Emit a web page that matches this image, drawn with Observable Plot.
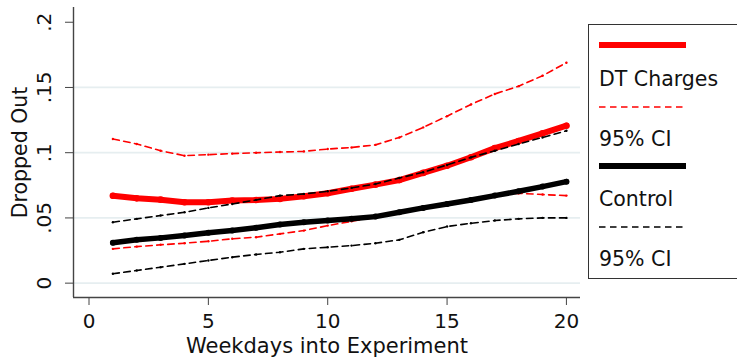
<!DOCTYPE html>
<html>
<head>
<meta charset="utf-8">
<script src="https://cdn.jsdelivr.net/npm/d3@7"></script>
<script src="https://cdn.jsdelivr.net/npm/@observablehq/plot@0.6"></script>
<style>
  html, body { margin: 0; padding: 0; background: #fff; overflow: hidden; }
  #wrap { position: relative; width: 737px; height: 358px; font-family: "DejaVu Sans", sans-serif; }
  #chart { position: absolute; left: 0; top: 0; }
  #legend { position: absolute; left: 588px; top: 24px; width: 170px; height: 255px; border: 1.3px solid #333; box-sizing: border-box; background: #fff; }
</style>
</head>
<body>
<div id="wrap">
  <div id="chart"></div>
  <div id="legend"></div>
</div>
<script>
// ---- data ----
const days = [1,2,3,4,5,6,7,8,9,10,11,12,13,14,15,16,17,18,19,20];
const dtEst  = [0.067,0.065,0.064,0.062,0.062,0.0633,0.0637,0.0646,0.0666,0.0689,0.0724,0.0755,0.079,0.0845,0.090,0.0965,0.1035,0.109,0.1148,0.1207];
const dtHi   = [0.1105,0.1067,0.1015,0.0977,0.0985,0.0993,0.100,0.1005,0.101,0.1028,0.104,0.106,0.1117,0.1194,0.128,0.137,0.145,0.151,0.159,0.169];
const dtLo   = [0.0263,0.028,0.0294,0.0306,0.0321,0.034,0.0352,0.0378,0.0403,0.0441,0.0474,0.0505,0.0543,0.0569,0.0602,0.0638,0.0671,0.0689,0.0679,0.0671];
const ctlEst = [0.0309,0.0332,0.0347,0.0365,0.0386,0.0403,0.0424,0.0449,0.0467,0.048,0.0493,0.051,0.0543,0.0577,0.0607,0.0638,0.0671,0.0704,0.074,0.0778];
const ctlHi  = [0.0467,0.0493,0.0518,0.0543,0.0577,0.0607,0.0638,0.0671,0.0684,0.0704,0.073,0.076,0.0806,0.085,0.0906,0.0964,0.1015,0.1067,0.1117,0.1168];
const ctlLo  = [0.0072,0.0097,0.0122,0.0148,0.0174,0.0199,0.022,0.0237,0.0263,0.0275,0.0288,0.0306,0.0332,0.039,0.0434,0.0459,0.048,0.0493,0.05,0.05];

const xTicks = [0,5,10,15,20];
const yTicks = [0,0.05,0.1,0.15,0.2];
const yTickLabels = ["0",".05",".1",".15",".2"];
const gridVals = [0,0.05,0.1,0.15];
const xDomain = [-0.65, 20.59];
const yDomain = [-0.011, 0.2113];

const xTitle = "Weekdays into Experiment";
const yTitle = "Dropped Out";
const legendItems = [
  {label: "DT Charges", color: "#ff0000", dashed: false},
  {label: "95% CI", color: "#ff0000", dashed: true},
  {label: "Control", color: "#000000", dashed: false},
  {label: "95% CI", color: "#000000", dashed: true}
];

const toRows = (vals) => days.map((d, i) => ({day: d, v: vals[i]}));
const yTickRows = yTicks.map((v, i) => ({v, label: yTickLabels[i]}));

const RED = "#ff0000", BLACK = "#000000";
const DASH = "6.5,4.5";

const chart = Plot.plot({
  width: 590,
  height: 358,
  marginLeft: 73,
  marginRight: 10,
  marginTop: 7,
  marginBottom: 61,
  style: {fontFamily: "'DejaVu Sans', sans-serif", color: "#222", background: "transparent"},
  x: {domain: xDomain},
  y: {domain: yDomain},
  marks: [
    Plot.ruleY(gridVals, {stroke: "#e6eef0", strokeWidth: 1.8}),
    // DT Charges
    Plot.line(toRows(dtEst), {x: "day", y: "v", stroke: RED, strokeWidth: 6}),
    Plot.dot(toRows(dtEst), {x: "day", y: "v", fill: RED, r: 3.3}),
    Plot.line(toRows(dtHi), {x: "day", y: "v", stroke: RED, strokeWidth: 1.6, strokeDasharray: DASH}),
    Plot.line(toRows(dtLo), {x: "day", y: "v", stroke: RED, strokeWidth: 1.6, strokeDasharray: DASH}),
    Plot.dot(toRows(dtHi), {x: "day", y: "v", fill: RED, r: 1.2}),
    Plot.dot(toRows(dtLo), {x: "day", y: "v", fill: RED, r: 1.2}),
    // Control
    Plot.line(toRows(ctlEst), {x: "day", y: "v", stroke: BLACK, strokeWidth: 5.5}),
    Plot.dot(toRows(ctlEst), {x: "day", y: "v", fill: BLACK, r: 3}),
    Plot.line(toRows(ctlHi), {x: "day", y: "v", stroke: BLACK, strokeWidth: 1.6, strokeDasharray: DASH}),
    Plot.line(toRows(ctlLo), {x: "day", y: "v", stroke: BLACK, strokeWidth: 1.6, strokeDasharray: DASH}),
    Plot.dot(toRows(ctlHi), {x: "day", y: "v", fill: BLACK, r: 1.2}),
    Plot.dot(toRows(ctlLo), {x: "day", y: "v", fill: BLACK, r: 1.2}),
    // axes
    Plot.ruleX([xDomain[0]], {stroke: "#444", strokeWidth: 1.4}),
    Plot.ruleY([yDomain[0]], {stroke: "#444", strokeWidth: 1.4}),
    Plot.axisX({ticks: xTicks, tickSize: 8, tickPadding: 8, fontSize: 20, stroke: "#444", fill: "#111", label: null}),
    Plot.axisY({ticks: yTicks, tickSize: 8, tickFormat: () => "", stroke: "#444", label: null}),
    Plot.text(yTickRows, {y: "v", text: "label", frameAnchor: "left", dx: -29, rotate: -90, textAnchor: "middle", lineAnchor: "middle", fontSize: 20, fill: "#111"}),
    Plot.text([yTitle], {frameAnchor: "left", dx: -53, rotate: -90, textAnchor: "middle", lineAnchor: "middle", fontSize: 20.5, fill: "#111"}),
    Plot.text([xTitle], {frameAnchor: "bottom", dy: 48.5, textAnchor: "middle", lineAnchor: "middle", fontSize: 21, fill: "#111"})
  ]
});
document.getElementById("chart").appendChild(chart);

// ---- legend ----
const lg = d3.select("#legend").append("svg").attr("width", 170).attr("height", 255)
  .style("position", "absolute").style("left", "-1px").style("top", "-1px");
const rowY = [21, 55, 83, 115, 142, 175, 203, 235];
legendItems.forEach((it, i) => {
  const ly = rowY[i * 2], ty = rowY[i * 2 + 1];
  lg.append("line").attr("x1", 11).attr("x2", 98).attr("y1", ly).attr("y2", ly)
    .attr("stroke", it.color).attr("stroke-width", it.dashed ? 1.6 : 6)
    .attr("stroke-dasharray", it.dashed ? DASH : null);
  lg.append("text").attr("x", 11).attr("y", ty).attr("dy", "0.35em")
    .attr("font-family", "'DejaVu Sans', sans-serif").attr("font-size", 20.5).attr("fill", "#111")
    .text(it.label);
});
</script>
</body>
</html>
